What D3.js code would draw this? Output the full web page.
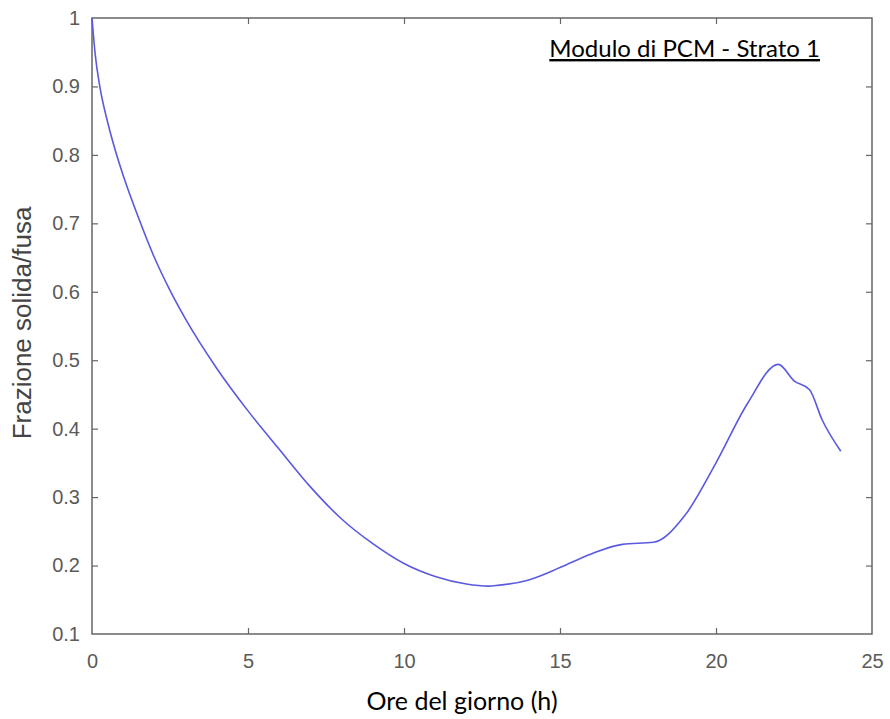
<!DOCTYPE html>
<html><head><meta charset="utf-8">
<script src="https://d3js.org/d3.v7.min.js"></script>
<style>body{margin:0;background:#fff}</style>
</head><body><svg id="c" width="890" height="719"></svg>
<script>
const hours = [0,0.1,0.25,0.5,0.75,1,1.5,2,2.5,3,4,5,6,7,8,9,10,11,12,12.7,13,14,15,16,17,18,19,20,21,22,22.5,23,23.4,24];
const fraction = [1.0,0.948,0.9,0.848,0.806,0.77,0.707,0.65,0.602,0.56,0.488,0.426,0.37,0.315,0.268,0.232,0.203,0.184,0.173,0.170,0.171,0.179,0.197,0.217,0.231,0.234,0.273,0.35,0.436,0.494,0.47,0.457,0.413,0.367];
const xTicks = [0,5,10,15,20,25];
const yTicks = [0.1,0.2,0.3,0.4,0.5,0.6,0.7,0.8,0.9,1];
const title = "Modulo di PCM - Strato 1";
const xLabel = "Ore del giorno (h)";
const yLabel = "Frazione solida/fusa";

const svg = d3.select("#c");
const L=92, R=872, T=18, B=634;
const x = d3.scaleLinear().domain([0,25]).range([L,R]);
const y = d3.scaleLinear().domain([0.1,1]).range([B,T]);
const axisColor="#666", textColor="#5a5a5a";

const g = svg.append("g");
g.append("rect").attr("x",L).attr("y",T).attr("width",R-L).attr("height",B-T)
 .attr("fill","none").attr("stroke",axisColor).attr("stroke-width",1.5);

function styleAxis(sel){
  sel.select(".domain").remove();
  sel.selectAll(".tick line").attr("stroke",axisColor).attr("stroke-width",1.2);
  sel.selectAll(".tick text").attr("fill",textColor).attr("font-family","Liberation Sans, Arial, sans-serif").attr("font-size",20);
}
const xb = g.append("g").attr("transform",`translate(0,${B})`)
  .call(d3.axisBottom(x).tickValues(xTicks).tickSizeInner(-6).tickSizeOuter(0).tickPadding(20).tickFormat(d3.format("d")));
styleAxis(xb);
const xt = g.append("g").attr("transform",`translate(0,${T})`)
  .call(d3.axisTop(x).tickValues(xTicks).tickSizeInner(-6).tickSizeOuter(0).tickFormat(""));
styleAxis(xt);
const yl = g.append("g").attr("transform",`translate(${L},0)`)
  .call(d3.axisLeft(y).tickValues(yTicks).tickSizeInner(-6).tickSizeOuter(0).tickPadding(12).tickFormat(d=>d===1?"1":d3.format(".1f")(d)));
styleAxis(yl);
const yr = g.append("g").attr("transform",`translate(${R},0)`)
  .call(d3.axisRight(y).tickValues(yTicks).tickSizeInner(-6).tickSizeOuter(0).tickFormat(""));
styleAxis(yr);
[xb,xt].forEach(a=>a.selectAll(".tick").filter(d=>d===0||d===25).select("line").remove());
[yl,yr].forEach(a=>a.selectAll(".tick").filter(d=>d===0.1||d===1).select("line").remove());

const line = d3.line().x((d,i)=>x(hours[i])).y(d=>y(d)).curve(d3.curveMonotoneX);
g.append("path").datum(fraction).attr("d",line).attr("fill","none")
 .attr("stroke","#5a5ae0").attr("stroke-width",1.6);

svg.append("text").attr("x",462).attr("y",710).attr("text-anchor","middle")
 .attr("font-family","Lato, Carlito, sans-serif").attr("font-size",25).attr("fill","#000").text(xLabel);
svg.append("text").attr("transform",`translate(31,323) rotate(-90)`).attr("text-anchor","middle")
 .attr("font-family","Liberation Sans, Arial, sans-serif").attr("font-size",26).attr("fill","#444").text(yLabel);
svg.append("text").attr("x",820).attr("y",57).attr("text-anchor","end")
 .attr("font-family","Lato, Carlito, sans-serif").attr("font-size",24).attr("fill","#000")
 .attr("text-decoration","underline").text(title);
</script></body></html>
